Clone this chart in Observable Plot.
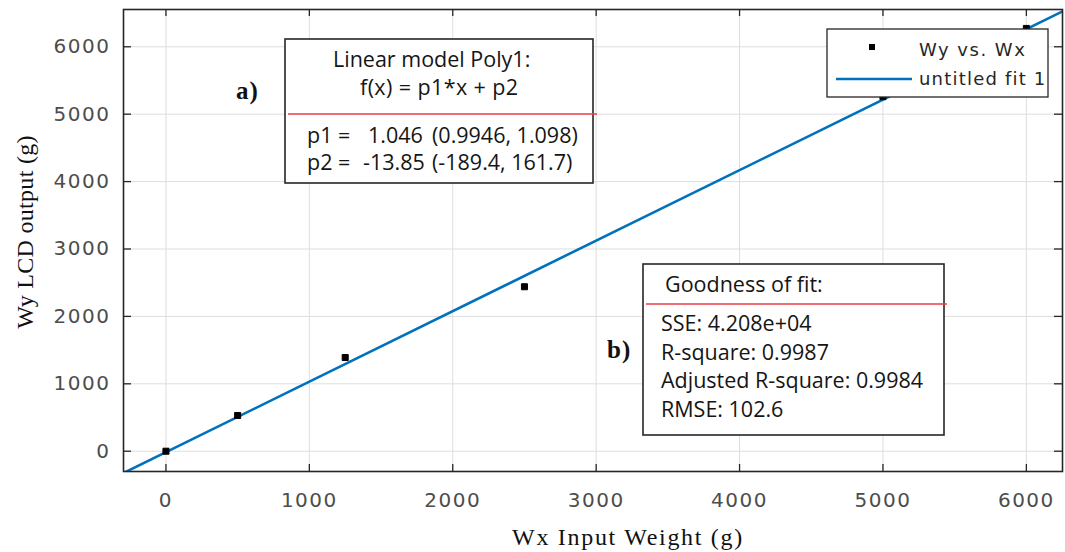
<!DOCTYPE html>
<html>
<head>
<meta charset="utf-8">
<script src="https://cdn.jsdelivr.net/npm/d3@7"></script>
<script src="https://cdn.jsdelivr.net/npm/@observablehq/plot@0.6"></script>
<style>
  html, body { margin: 0; padding: 0; background: #fff; }
  #chart { position: relative; width: 1065px; height: 552px; }
</style>
</head>
<body>
<div id="chart"></div>
<script>
// ---- data ----
const weightX = [0, 500, 1250, 2500, 5000, 6000];          // Wx input weight (g)
const weightY = [0, 530, 1390, 2440, 5260, 6272];          // Wy LCD output (g)
const fitLineX = [-300, 6300];                             // fitted line end points
const fitLineY = [-327.65, 6575.95];
const xTicks = [0, 1000, 2000, 3000, 4000, 5000, 6000];
const yTicks = [0, 1000, 2000, 3000, 4000, 5000, 6000];
const xTitle = "Wx Input Weight (g)";
const yTitle = "Wy LCD output (g)";
const legendLabels = ["Wy vs. Wx", "untitled fit 1"];
const modelLines = ["Linear model Poly1:", "f(x) = p1*x + p2"];
const paramNames = ["p1 =", "p2 ="];
const paramValues = ["1.046", "-13.85"];
const paramBounds = ["(0.9946, 1.098)", "(-189.4, 161.7)"];
const gofTitle = "Goodness of fit:";
const gofLines = ["SSE: 4.208e+04", "R-square: 0.9987", "Adjusted R-square: 0.9984", "RMSE: 102.6"];
const panelLabels = ["a)", "b)"];

const points = weightX.map((x, i) => ({x, y: weightY[i]}));
const fitRows = fitLineX.map((x, i) => ({x, y: fitLineY[i]}));

const axisColor = "#262626";
const blue = "#0072BD";

const plot = Plot.plot({
  width: 1065,
  height: 552,
  marginLeft: 123,
  marginRight: 3,
  marginTop: 9,
  marginBottom: 81,
  x: {domain: [-296, 6252]},
  y: {domain: [-301, 6553]},
  style: {fontFamily: "DejaVu Sans", background: "#fff", overflow: "visible"},
  marks: [
    Plot.gridX({ticks: xTicks, stroke: "#dedede", strokeOpacity: 1, strokeWidth: 1}),
    Plot.gridY({ticks: yTicks, stroke: "#dedede", strokeOpacity: 1, strokeWidth: 1}),
    Plot.line(fitRows, {x: "x", y: "y", stroke: blue, strokeWidth: 2.6, clip: true}),
    Plot.dot(points, {x: "x", y: "y", r: 3.4, symbol: "square", fill: "#000", stroke: "#000", strokeWidth: 1}),
    Plot.tickX(xTicks, {x: d => d, insetTop: 455, stroke: axisColor, strokeWidth: 1.3}),
    Plot.tickX(xTicks, {x: d => d, insetBottom: 455, stroke: axisColor, strokeWidth: 1.3}),
    Plot.tickY(yTicks, {y: d => d, insetRight: 931, stroke: axisColor, strokeWidth: 1.3}),
    Plot.tickY(yTicks, {y: d => d, insetLeft: 931, stroke: axisColor, strokeWidth: 1.3}),
    Plot.frame({stroke: axisColor, strokeWidth: 1.6}),
    Plot.axisX({ticks: xTicks, tickSize: 0, tickPadding: 21, tickFormat: "d", label: null, fontSize: 20, fill: "#4d4d4d"}),
    Plot.axisY({ticks: yTicks, tickSize: 0, tickPadding: 13, tickFormat: "d", label: null, fontSize: 20, fill: "#4d4d4d"})
  ]
});

document.getElementById("chart").appendChild(plot);

const svg = d3.select(plot);
svg.selectAll('g[aria-label="x-axis tick label"] text, g[aria-label="y-axis tick label"] text')
   .style("letter-spacing", "1.5px");

const g = svg.append("g").attr("class", "annotations").attr("text-anchor", "start");
const boxFont = "'Open Sans', 'Noto Sans', sans-serif";
const textColor = "#151515";

function txt(s, x, y, font, size, extra = {}) {
  const t = g.append("text").text(s).attr("x", x).attr("y", y)
    .attr("text-anchor", extra.anchor || "start")
    .style("font-family", font).style("font-size", size + "px")
    .attr("fill", extra.fill || textColor);
  if (extra.ls) t.style("letter-spacing", extra.ls + "px");
  if (extra.bold) t.style("font-weight", "bold");
  return t;
}

// axis titles
txt(xTitle, 628, 545, "'Liberation Serif', serif", 24, {anchor: "middle", ls: 1.7, fill: "#111"});
txt(yTitle, 0, 0, "'Liberation Serif', serif", 24, {anchor: "middle", ls: 0.3, fill: "#111"})
  .attr("x", null).attr("y", null).attr("transform", "translate(33,232) rotate(-90)");

// panel labels
txt(panelLabels[0], 236, 99, "'Liberation Serif', serif", 25, {bold: true, ls: 1, fill: "#111"});
txt(panelLabels[1], 607, 358, "'Liberation Serif', serif", 25, {bold: true, ls: 1, fill: "#111"});

// model box
g.append("rect").attr("x", 285).attr("y", 39).attr("width", 308).attr("height", 144)
  .attr("fill", "#fff").attr("stroke", axisColor).attr("stroke-width", 1.6);
g.append("line").attr("x1", 288).attr("x2", 597).attr("y1", 114).attr("y2", 114)
  .attr("stroke", "#ec3c46").attr("stroke-width", 1.5);
txt(modelLines[0], 333, 67, boxFont, 21.5);
txt(modelLines[1], 360, 95, boxFont, 21.5, {ls: 0.4});
[143, 170].forEach((by, i) => {
  txt(paramNames[i], 307, by, boxFont, 21.5);
  txt(paramValues[i], i === 0 ? 368 : 363, by, boxFont, 21.5);
  txt(paramBounds[i], 432, by, boxFont, 21.5);
});

// goodness box
g.append("rect").attr("x", 643).attr("y", 264).attr("width", 301).attr("height", 171)
  .attr("fill", "#fff").attr("stroke", axisColor).attr("stroke-width", 1.6);
g.append("line").attr("x1", 646).attr("x2", 947).attr("y1", 304).attr("y2", 304)
  .attr("stroke", "#ec3c46").attr("stroke-width", 1.5);
txt(gofTitle, 665, 292, boxFont, 21.5);
[331, 360, 388, 417].forEach((by, i) => txt(gofLines[i], 661, by, boxFont, 21.5));

// legend
g.append("rect").attr("x", 827).attr("y", 29).attr("width", 221).attr("height", 68)
  .attr("fill", "#fff").attr("stroke", axisColor).attr("stroke-width", 1.3);
g.append("rect").attr("x", 869).attr("y", 44).attr("width", 6).attr("height", 6).attr("fill", "#000");
g.append("line").attr("x1", 836).attr("x2", 912).attr("y1", 79).attr("y2", 79)
  .attr("stroke", blue).attr("stroke-width", 2.6);
txt(legendLabels[0], 919, 56, "'DejaVu Sans', sans-serif", 18, {ls: 1.5, fill: axisColor});
txt(legendLabels[1], 919, 85, "'DejaVu Sans', sans-serif", 18, {ls: 1.2, fill: axisColor});
</script>
</body>
</html>
